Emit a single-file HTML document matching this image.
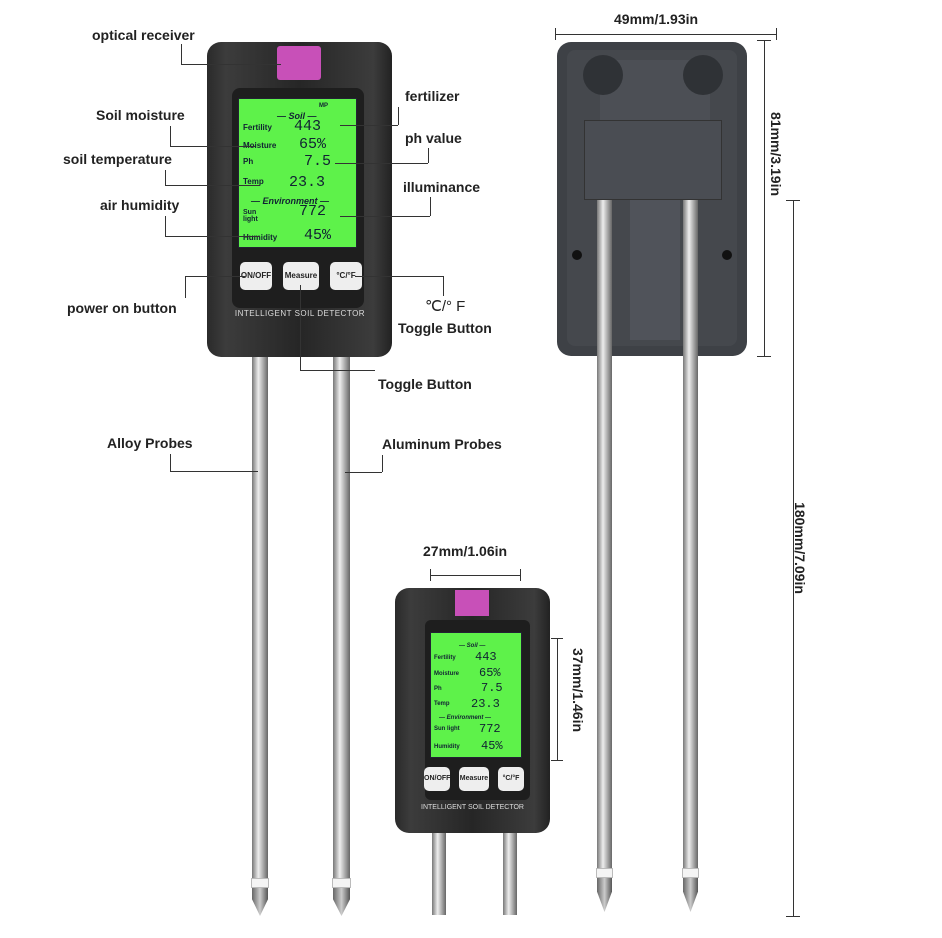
<!DOCTYPE html>
<html><head><meta charset="utf-8"><style>
body{margin:0;width:942px;height:938px;background:#fff;position:relative;overflow:hidden;font-family:"Liberation Sans",sans-serif}
div{position:absolute;box-sizing:border-box}
.l{font-size:14px;font-weight:bold;color:#222;white-space:nowrap}
.h{height:1px;background:#333}.v{width:1px;background:#333}
.probe{background:linear-gradient(90deg,#777,#eee 40%,#aaa 70%,#666)}
.tip{background:linear-gradient(90deg,#666,#ccc,#555);clip-path:polygon(0 0,100% 0,100% 40%,50% 100%,0 40%)}
.ring{background:#f4f4f4;border:1px solid #bbb}
.body{background:linear-gradient(90deg,#2a2a2a,#3c3c3c 10%,#262626 50%,#3c3c3c 90%,#222);border-radius:14px}
.scr{background:#5ef24a;border:1px solid #223;font-size:8px;color:#123;font-weight:bold}
.btn{background:#eee;border-radius:5px;font-size:8px;text-align:center;color:#222;font-weight:bold}
.big{font-family:"Liberation Mono",monospace;font-weight:normal}
</style></head><body>
<!-- front probes -->
<div class="probe" style="left:252px;top:350px;width:16px;height:530px"></div>
<div class="ring" style="left:251px;top:878px;width:18px;height:10px"></div>
<div class="tip" style="left:252px;top:888px;width:16px;height:28px"></div>
<div class="probe" style="left:333px;top:350px;width:17px;height:530px"></div>
<div class="ring" style="left:332px;top:878px;width:19px;height:10px"></div>
<div class="tip" style="left:333px;top:888px;width:17px;height:28px"></div>
<!-- front body -->
<div class="body" style="left:207px;top:42px;width:185px;height:315px"></div>
<div style="left:277px;top:46px;width:44px;height:34px;background:#c850b8;border-radius:3px"></div>
<div style="left:232px;top:88px;width:132px;height:220px;background:#1e1e1e;border-radius:8px"></div>
<div class="scr" style="left:238px;top:98px;width:119px;height:150px">
<div style="left:80px;top:4px;font-size:6px">MP</div>
<div style="left:38px;top:12px;font-style:italic;font-size:9px">— Soil —</div>
<div style="left:4px;top:24px">Fertility</div><div class="big" style="left:55px;top:19px;font-size:15px">443</div>
<div style="left:4px;top:42px">Moisture</div><div class="big" style="left:60px;top:37px;font-size:15px">65%</div>
<div style="left:4px;top:58px">Ph</div><div class="big" style="left:65px;top:54px;font-size:15px">7.5</div>
<div style="left:4px;top:78px">Temp</div><div class="big" style="left:50px;top:75px;font-size:15px">23.3</div>
<div style="left:12px;top:97px;font-style:italic;font-size:9px">— Environment —</div>
<div style="left:4px;top:110px;font-size:7px">Sun<br>light</div><div class="big" style="left:60px;top:104px;font-size:15px">772</div>
<div style="left:4px;top:134px">Humidity</div><div class="big" style="left:65px;top:128px;font-size:15px">45%</div>
</div>
<div class="btn" style="left:240px;top:262px;width:32px;height:28px;line-height:28px">ON/OFF</div>
<div class="btn" style="left:283px;top:262px;width:36px;height:28px;line-height:28px">Measure</div>
<div class="btn" style="left:330px;top:262px;width:32px;height:28px;line-height:28px">°C/°F</div>
<div style="left:225px;top:309px;width:150px;text-align:center;color:#ddd;font-size:8px;letter-spacing:0.5px;white-space:nowrap">INTELLIGENT SOIL DETECTOR</div>
<!-- back probes & body -->
<div class="body" style="left:557px;top:42px;width:190px;height:314px;background:#3e4146"></div>
<div style="left:567px;top:50px;width:170px;height:296px;background:#45484d;border-radius:8px"></div>
<div style="left:600px;top:60px;width:110px;height:140px;background:#4c4f55;border-radius:6px"></div>
<div style="left:583px;top:55px;width:40px;height:40px;background:#2f3236;border-radius:20px"></div>
<div style="left:683px;top:55px;width:40px;height:40px;background:#2f3236;border-radius:20px"></div>
<div style="left:584px;top:120px;width:138px;height:80px;background:#4a4d53;border:1px solid #333"></div>
<div style="left:630px;top:200px;width:50px;height:140px;background:#50535a"></div>
<div style="left:572px;top:250px;width:10px;height:10px;background:#111;border-radius:5px"></div>
<div style="left:722px;top:250px;width:10px;height:10px;background:#111;border-radius:5px"></div>
<div class="probe" style="left:597px;top:200px;width:15px;height:680px"></div>
<div class="ring" style="left:596px;top:868px;width:17px;height:10px"></div>
<div class="tip" style="left:597px;top:878px;width:15px;height:34px"></div>
<div class="probe" style="left:683px;top:200px;width:15px;height:680px"></div>
<div class="ring" style="left:682px;top:868px;width:17px;height:10px"></div>
<div class="tip" style="left:683px;top:878px;width:15px;height:34px"></div>
<!-- small device -->
<div class="probe" style="left:432px;top:820px;width:14px;height:95px"></div>
<div class="probe" style="left:503px;top:820px;width:14px;height:95px"></div>
<div class="body" style="left:395px;top:588px;width:155px;height:245px"></div>
<div style="left:455px;top:590px;width:34px;height:26px;background:#c850b8"></div>
<div style="left:425px;top:620px;width:105px;height:180px;background:#1e1e1e;border-radius:6px"></div>
<div class="scr" style="left:430px;top:632px;width:92px;height:126px;font-size:6px">
<div style="left:28px;top:10px;font-style:italic">— Soil —</div>
<div style="left:3px;top:22px">Fertility</div><div class="big" style="left:44px;top:17px;font-size:12px">443</div>
<div style="left:3px;top:38px">Moisture</div><div class="big" style="left:48px;top:33px;font-size:12px">65%</div>
<div style="left:3px;top:53px">Ph</div><div class="big" style="left:50px;top:48px;font-size:12px">7.5</div>
<div style="left:3px;top:68px">Temp</div><div class="big" style="left:40px;top:64px;font-size:12px">23.3</div>
<div style="left:8px;top:82px;font-style:italic">— Environment —</div>
<div style="left:3px;top:93px">Sun light</div><div class="big" style="left:48px;top:89px;font-size:12px">772</div>
<div style="left:3px;top:111px">Humidity</div><div class="big" style="left:50px;top:106px;font-size:12px">45%</div>
</div>
<div class="btn" style="left:424px;top:767px;width:26px;height:24px;line-height:24px;font-size:7px">ON/OFF</div>
<div class="btn" style="left:459px;top:767px;width:30px;height:24px;line-height:24px;font-size:7px">Measure</div>
<div class="btn" style="left:498px;top:767px;width:26px;height:24px;line-height:24px;font-size:7px">°C/°F</div>
<div style="left:410px;top:804px;width:125px;text-align:center;color:#ddd;font-size:7px;white-space:nowrap">INTELLIGENT SOIL DETECTOR</div>
<!-- labels -->
<div class="l" style="left:92px;top:27px">optical receiver</div>
<div class="h" style="left:181px;top:64px;width:100px"></div><div class="v" style="left:181px;top:44px;height:20px"></div>
<div class="l" style="left:96px;top:107px">Soil moisture</div>
<div class="h" style="left:170px;top:146px;width:85px"></div><div class="v" style="left:170px;top:126px;height:20px"></div>
<div class="l" style="left:63px;top:151px">soil temperature</div>
<div class="h" style="left:165px;top:185px;width:95px"></div><div class="v" style="left:165px;top:170px;height:15px"></div>
<div class="l" style="left:100px;top:197px">air humidity</div>
<div class="h" style="left:165px;top:236px;width:95px"></div><div class="v" style="left:165px;top:216px;height:20px"></div>
<div class="l" style="left:405px;top:88px">fertilizer</div>
<div class="h" style="left:340px;top:125px;width:58px"></div><div class="v" style="left:398px;top:107px;height:18px"></div>
<div class="l" style="left:405px;top:130px">ph value</div>
<div class="h" style="left:335px;top:163px;width:93px"></div><div class="v" style="left:428px;top:148px;height:15px"></div>
<div class="l" style="left:403px;top:179px">illuminance</div>
<div class="h" style="left:340px;top:216px;width:90px"></div><div class="v" style="left:430px;top:197px;height:19px"></div>
<div class="l" style="left:67px;top:300px">power on button</div>
<div class="h" style="left:185px;top:276px;width:60px"></div><div class="v" style="left:185px;top:276px;height:22px"></div>
<div class="l" style="left:425px;top:297px;font-weight:normal;font-size:15px">℃/° F</div>
<div class="l" style="left:398px;top:320px">Toggle Button</div>
<div class="h" style="left:355px;top:276px;width:88px"></div><div class="v" style="left:443px;top:276px;height:20px"></div>
<div class="l" style="left:378px;top:376px">Toggle Button</div>
<div class="v" style="left:300px;top:285px;height:85px"></div><div class="h" style="left:300px;top:370px;width:75px"></div>
<div class="l" style="left:107px;top:435px">Alloy Probes</div>
<div class="v" style="left:170px;top:454px;height:17px"></div><div class="h" style="left:170px;top:471px;width:88px"></div>
<div class="l" style="left:382px;top:436px">Aluminum Probes</div>
<div class="v" style="left:382px;top:455px;height:17px"></div><div class="h" style="left:345px;top:472px;width:37px"></div>
<!-- dimensions -->
<div class="l" style="left:614px;top:11px">49mm/1.93in</div>
<div class="h" style="left:555px;top:34px;width:222px"></div>
<div class="v" style="left:555px;top:28px;height:12px"></div><div class="v" style="left:776px;top:28px;height:12px"></div>
<div class="v" style="left:764px;top:40px;height:316px"></div>
<div class="h" style="left:757px;top:40px;width:14px"></div><div class="h" style="left:757px;top:356px;width:14px"></div>
<div class="l" style="left:716px;top:146px;transform:rotate(90deg);transform-origin:center;width:120px;text-align:center">81mm/3.19in</div>
<div class="v" style="left:793px;top:200px;height:716px"></div>
<div class="h" style="left:786px;top:200px;width:14px"></div><div class="h" style="left:786px;top:916px;width:14px"></div>
<div class="l" style="left:740px;top:540px;transform:rotate(90deg);width:120px;text-align:center">180mm/7.09in</div>
<div class="l" style="left:423px;top:543px">27mm/1.06in</div>
<div class="h" style="left:430px;top:575px;width:90px"></div>
<div class="v" style="left:430px;top:569px;height:12px"></div><div class="v" style="left:520px;top:569px;height:12px"></div>
<div class="v" style="left:557px;top:638px;height:122px"></div>
<div class="h" style="left:551px;top:638px;width:12px"></div><div class="h" style="left:551px;top:760px;width:12px"></div>
<div class="l" style="left:518px;top:682px;transform:rotate(90deg);width:120px;text-align:center">37mm/1.46in</div>
</body></html>
